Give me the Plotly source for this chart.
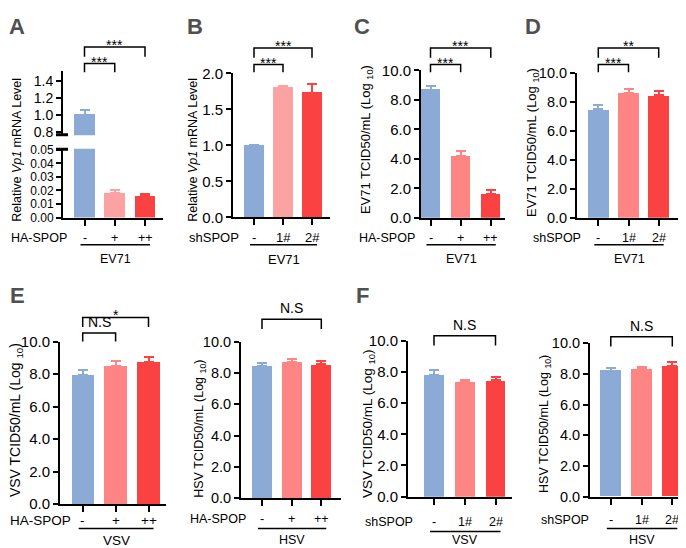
import plotly.graph_objects as go

W, H = 686, 548
FONT = "Liberation Sans, Arial, Helvetica, sans-serif"

# ---------------- data ----------------
ha_labels = ["-", "+", "++"]
sh_labels = ["-", "1#", "2#"]

A_mean = [1.0, 0.018, 0.016]
A_err = [0.055, 0.002, 0.0015]
B_mean = [1.0, 1.80, 1.73]
B_err = [0.01, 0.025, 0.13]
C_mean = [8.68, 4.2, 1.62]
C_err = [0.27, 0.32, 0.28]
D_mean = [7.48, 8.6, 8.45]
D_err = [0.28, 0.28, 0.25]
E_vsv_mean = [7.96, 8.5, 8.76]
E_vsv_err = [0.28, 0.3, 0.28]
E_hsv_mean = [8.45, 8.7, 8.56]
E_hsv_err = [0.2, 0.2, 0.2]
F_vsv_mean = [7.84, 7.36, 7.46]
F_vsv_err = [0.28, 0.16, 0.2]
F_hsv_mean = [8.21, 8.3, 8.53]
F_hsv_err = [0.17, 0.15, 0.24]

blue = "#8CAAD6"
pink_light = "#FCA2A2"
pink = "#FF8484"
red = "#FA4242"


def px(x):
    return x / W


def py(y):
    return 1 - y / H


fig = go.Figure()
layout = {}
shapes = []
annos = []
counter = [0]


def new_axes(g, yt, yb, yrange, ytickvals, yfmt, tick_size, show_x=True):
    counter[0] += 1
    n = counter[0]
    s = "" if n == 1 else str(n)
    xr0 = (g["xl"] - g["c0"]) / g["s"]
    xr1 = (g["xr"] - g["c0"]) / g["s"]
    layout["xaxis" + s] = dict(
        domain=[px(g["xl"]), px(g["xr"])], range=[xr0, xr1], anchor="y" + s,
        showgrid=False, zeroline=False, showline=show_x, linecolor="black", linewidth=2,
        ticks="outside" if show_x else "", tickvals=[0, 1, 2], ticklen=6, tickwidth=2,
        tickcolor="black", showticklabels=False, fixedrange=True)
    layout["yaxis" + s] = dict(
        domain=[py(yb), py(yt)], range=yrange, anchor="x" + s,
        showgrid=False, zeroline=False, showline=True, linecolor="black", linewidth=2,
        ticks="outside", ticklen=5, tickwidth=2, tickcolor="black",
        tickvals=ytickvals, tickformat=yfmt, ticklabelstandoff=0,
        tickfont=dict(size=tick_size, color="black", family=FONT), fixedrange=True)
    return "x" + s, "y" + s


def add_bars(xid, yid, means, errs, colors, bw):
    for i, (m, e, c) in enumerate(zip(means, errs, colors)):
        fig.add_trace(go.Bar(
            x=[i], y=[m], width=bw, marker=dict(color=c, line=dict(width=0)),
            error_y=dict(type="data", array=[e], arrayminus=[0], symmetric=False,
                         color=c, thickness=2, width=5),
            xaxis=xid, yaxis=yid, showlegend=False, hoverinfo="skip"))


def text(x, y, t, size=13, xanchor="center", yanchor="middle", angle=0, bold=False, color="black"):
    annos.append(dict(
        x=px(x), y=py(y), xref="paper", yref="paper", text=("<b>%s</b>" % t) if bold else t,
        showarrow=False, xanchor=xanchor, yanchor=yanchor, textangle=angle,
        font=dict(size=size, color=color, family=FONT)))


def decorate(g):
    c = [g["c0"] + i * g["s"] for i in range(3)]
    for i, lab in enumerate(g["cats"]):
        text(c[i], g["lab_y"], lab, size=g["lab_size"])
    text(g["row_x"], g["lab_y"], g["row"], size=g["lab_size"], xanchor="right")
    u0, u1 = c[0] - 4, c[2] + 5
    shapes.append(dict(type="line", xref="paper", yref="paper", x0=px(u0), x1=px(u1),
                       y0=py(g["line_y"]), y1=py(g["line_y"]), line=dict(color="black", width=1.5)))
    text((u0 + u1) / 2, g["grp_y"], g["group"], size=g["lab_size"])
    text(g["tx"], g["ty"], g["title"], size=g["title_size"], angle=-90)
    for (i, j, lab, ytop, ybot) in g["br"]:
        xa, xb = c[i], c[j]
        path = "M %f,%f L %f,%f L %f,%f L %f,%f" % (
            px(xa), py(ybot), px(xa), py(ytop), px(xb), py(ytop), px(xb), py(ybot))
        shapes.append(dict(type="path", xref="paper", yref="paper", path=path,
                           line=dict(color="black", width=1.5)))
        if lab.startswith("*"):
            text((xa + xb) / 2, ytop - 2, lab, size=14)
        else:
            text((xa + xb) / 2, ytop - 1, lab, size=14, yanchor="bottom")
    if g["letter"]:
        text(g["lx"], g["ly"], g["letter"], size=22, bold=True, color="#505050")


tick10 = [0, 2, 4, 6, 8, 10]
tlog = " TCID50/mL (Log <sub>10</sub>)"
TS = 15

# ---------------- panel A (broken axis) ----------------
gA = dict(xl=55, xr=155, c0=76.5, s=30.25, cats=ha_labels, row="HA-SPOP", group="EV71",
          row_x=61, lab_y=228, line_y=235, grp_y=250, lab_size=12.5,
          title="Relative <i>Vp1</i> mRNA Level", tx=9, ty=137, title_size=12.5,
          br=[(0, 1, "***", 48, 57), (0, 2, "***", 31, 41)], letter="A", lx=9, ly=10)
xu, yu = new_axes(gA, 56, 122, [0.758, 1.51], [0.8, 1.0, 1.2, 1.4], ".1f", 14, show_x=False)
add_bars(xu, yu, A_mean, A_err, [blue, pink_light, red], 0.68)
xl_, yl_ = new_axes(gA, 136, 207, [0, 0.0507], [0, 0.01, 0.02, 0.03, 0.04, 0.05], ".2f", 12)
add_bars(xl_, yl_, A_mean, A_err, [blue, pink_light, red], 0.68)
for yb in (121.5, 136.5):
    shapes.append(dict(type="line", xref="paper", yref="paper", x0=px(48), x1=px(60),
                       y0=py(yb), y1=py(yb), line=dict(color="black", width=3)))
decorate(gA)

# ---------------- panel B ----------------
gB = dict(xl=225, xr=322, c0=246, s=29, cats=sh_labels, row="shSPOP", group="EV71",
          row_x=233, lab_y=228, line_y=235, grp_y=250, lab_size=13,
          title="Relative <i>Vp1</i> mRNA Level", tx=185, ty=137, title_size=12.5,
          br=[(0, 1, "***", 49, 57), (0, 2, "***", 32, 42)], letter="B", lx=187, ly=10)
xb, ybb = new_axes(gB, 58.3, 206.7, [0, 2], [0, 0.5, 1.0, 1.5, 2.0], ".1f", TS)
add_bars(xb, ybb, B_mean, B_err, [blue, pink_light, red], 0.69)
decorate(gB)

# ---------------- panel C ----------------
gC = dict(xl=413, xr=497, c0=422.5, s=30.15, cats=ha_labels, row="HA-SPOP", group="EV71",
          row_x=409, lab_y=228, line_y=235, grp_y=250, lab_size=12.5,
          title="EV71" + tlog, tx=358, ty=127, title_size=13,
          br=[(0, 1, "***", 49, 57), (0, 2, "***", 32, 42)], letter="C", lx=354, ly=10)
xc, yc = new_axes(gC, 55, 207.3, [0, 10], tick10, ".1f", TS)
add_bars(xc, yc, C_mean, C_err, [blue, pink, red], 0.63)
decorate(gC)

# ---------------- panel D ----------------
gD = dict(xl=569, xr=673, c0=590.3, s=30.2, cats=sh_labels, row="shSPOP", group="EV71",
          row_x=575, lab_y=228, line_y=235, grp_y=250, lab_size=12.5,
          title="EV71" + tlog, tx=525, ty=130, title_size=13,
          br=[(0, 1, "***", 49, 57), (0, 2, "**", 32, 42)], letter="D", lx=525, ly=10)
xd, yd = new_axes(gD, 57.3, 207.3, [0, 10], tick10, ".1f", 14.5)
add_bars(xd, yd, D_mean, D_err, [blue, pink, red], 0.68)
decorate(gD)

# ---------------- panel E ----------------
gE1 = dict(xl=52, xr=158, c0=74.7, s=32.9, cats=ha_labels, row="HA-SPOP", group="VSV",
           row_x=65, lab_y=520, line_y=528, grp_y=540, lab_size=13.5,
           title="VSV" + tlog, tx=8, ty=416, title_size=14,
           br=[(0, 1, "N.S", 326, 335), (0, 2, "*", 310, 320)], letter="E", lx=9, ly=287)
xe1, ye1 = new_axes(gE1, 335, 502.7, [0, 10], tick10, ".1f", TS)
add_bars(xe1, ye1, E_vsv_mean, E_vsv_err, [blue, pink, red], 0.68)
decorate(gE1)

gE2 = dict(xl=233, xr=333, c0=254, s=29.65, cats=ha_labels, row="HA-SPOP", group="HSV",
           row_x=240, lab_y=518, line_y=528, grp_y=540, lab_size=12.5,
           title="HSV" + tlog, tx=192, ty=425, title_size=12.5,
           br=[(0, 2, "N.S", 312, 322)], letter="", lx=0, ly=0)
xe2, ye2 = new_axes(gE2, 335, 496.7, [0, 10], tick10, ".1f", 14.5)
add_bars(xe2, ye2, E_hsv_mean, E_hsv_err, [blue, pink, red], 0.68)
decorate(gE2)

# ---------------- panel F ----------------
gF1 = dict(xl=400, xr=504, c0=426, s=30.75, cats=sh_labels, row="shSPOP", group="VSV",
           row_x=407, lab_y=521, line_y=531, grp_y=540, lab_size=12.5,
           title="VSV" + tlog, tx=360, ty=419, title_size=13.5,
           br=[(0, 2, "N.S", 329, 339)], letter="F", lx=354, ly=287)
xf1, yf1 = new_axes(gF1, 334.3, 495, [0, 10], tick10, ".1f", TS)
add_bars(xf1, yf1, F_vsv_mean, F_vsv_err, [blue, pink, red], 0.65)
decorate(gF1)

gF2 = dict(xl=582, xr=685, c0=602.8, s=30.75, cats=sh_labels, row="shSPOP", group="HSV",
           row_x=583, lab_y=519, line_y=528, grp_y=540, lab_size=12.5,
           title="HSV" + tlog, tx=537, ty=420, title_size=12.5,
           br=[(0, 2, "N.S", 330, 340)], letter="", lx=0, ly=0)
xf2, yf2 = new_axes(gF2, 336.7, 495, [0, 10], tick10, ".1f", 14.5)
add_bars(xf2, yf2, F_hsv_mean, F_hsv_err, [blue, pink, red], 0.68)
decorate(gF2)

fig.update_layout(
    width=W, height=H, margin=dict(l=0, r=0, t=0, b=0),
    paper_bgcolor="white", plot_bgcolor="white",
    font=dict(family=FONT, color="black"),
    showlegend=False, bargap=0, shapes=shapes, annotations=annos, **layout)

fig.write_html("out.html", config={"displayModeBar": False})
